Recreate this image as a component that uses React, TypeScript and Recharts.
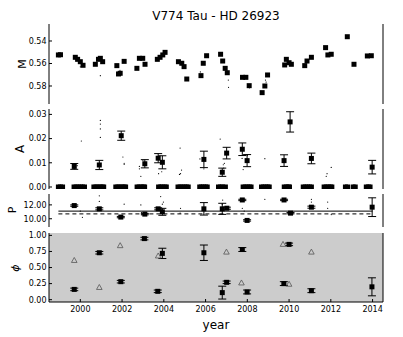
import React from 'react';
import { ComposedChart, Scatter, XAxis, YAxis, ErrorBar, ReferenceLine, CartesianGrid } from 'recharts';

const FONT = '"DejaVu Sans", sans-serif';

const yearTicks = [2000, 2002, 2004, 2006, 2008, 2010, 2012, 2014];
const yearDomain = [1998.5, 2014.5];

// M panel (big squares + small dots)
const mYears = [1998.95, 1999.05, 1999.76, 1999.87, 2000.0, 2000.13, 2000.72, 2000.87, 2000.96, 2001.07, 2001.75, 2001.83, 2001.91, 2002.1, 2002.71, 2002.83, 2002.99, 2003.1, 2003.69, 2003.82, 2003.95, 2004.06, 2004.7, 2004.86, 2004.97, 2005.1, 2005.78, 2005.89, 2006.05, 2006.72, 2006.82, 2006.94, 2007.04, 2007.77, 2007.93, 2008.09, 2008.71, 2008.84, 2008.97, 2009.79, 2009.87, 2010.0, 2010.11, 2010.75, 2010.86, 2011.07, 2011.75, 2011.86, 2012.02, 2012.79, 2013.11, 2013.75, 2013.94];
const mVals = [0.5524, 0.5522, 0.5545, 0.5563, 0.5584, 0.5616, 0.5607, 0.5563, 0.5554, 0.5584, 0.5619, 0.5693, 0.5687, 0.5581, 0.5643, 0.5554, 0.5554, 0.5607, 0.5563, 0.5545, 0.5524, 0.5501, 0.5584, 0.5598, 0.5628, 0.5738, 0.5708, 0.5598, 0.5531, 0.5518, 0.5578, 0.5643, 0.5682, 0.5723, 0.5723, 0.5797, 0.5859, 0.58, 0.5702, 0.5613, 0.5563, 0.5593, 0.5607, 0.5619, 0.5578, 0.5545, 0.5459, 0.5524, 0.5518, 0.5362, 0.5607, 0.5533, 0.5531];
const mDotYears = [2000.0, 2000.96, 2001.9, 2005.75, 2007.09, 2007.1, 2008.1, 2008.87, 2008.9];
const mDotVals = [0.563, 0.5708, 0.566, 0.5675, 0.5747, 0.5812, 0.5816, 0.5747, 0.5765];

// A panel
const aYears = [1999.71, 2000.91, 2001.96, 2003.09, 2003.73, 2003.93, 2005.92, 2006.8, 2007.01, 2007.76, 2007.99, 2009.76, 2010.05, 2011.07, 2013.98];
const aVals = [0.0085, 0.0091, 0.0212, 0.0096, 0.0119, 0.0102, 0.0114, 0.0061, 0.014, 0.0156, 0.0109, 0.0109, 0.0269, 0.0118, 0.0082];
const aErrs = [0.0012, 0.0019, 0.0019, 0.0017, 0.0019, 0.0027, 0.0034, 0.0017, 0.0024, 0.0026, 0.0025, 0.0024, 0.0042, 0.0022, 0.0028];
const aZeroYears = [1998.95, 1999.05, 1999.15, 1999.7, 1999.8, 1999.9, 2000.0, 2000.1, 2000.2, 2000.65, 2000.75, 2000.85, 2000.95, 2001.05, 2001.12, 2001.7, 2001.8, 2001.9, 2002.0, 2002.1, 2002.17, 2002.72, 2002.82, 2002.92, 2003.02, 2003.08, 2003.75, 2003.85, 2003.92, 2004.05, 2004.12, 2004.68, 2004.78, 2004.88, 2004.98, 2005.08, 2005.17, 2005.72, 2005.8, 2005.9, 2006.0, 2006.08, 2006.62, 2006.72, 2006.82, 2006.95, 2007.8, 2007.9, 2008.0, 2008.1, 2008.18, 2008.68, 2008.78, 2008.88, 2008.98, 2009.05, 2009.77, 2009.87, 2009.97, 2010.02, 2010.68, 2010.78, 2010.88, 2010.98, 2011.07, 2011.68, 2011.78, 2011.88, 2011.98, 2012.05, 2012.7, 2012.8, 2013.07, 2013.17, 2013.7, 2013.8, 2013.88];
const aDotYears = [1999.85, 2000.05, 2000.96, 2000.96, 2000.96, 2000.96, 2002.04, 2002.1, 2002.1, 2002.83, 2002.83, 2002.9, 2003.0, 2003.75, 2003.9, 2004.78, 2004.75, 2004.8, 2004.85, 2005.73, 2005.92, 2006.7, 2006.85, 2006.87, 2006.9, 2007.75, 2007.8, 2008.0, 2008.84, 2011.78, 2011.82, 2012.02];
const aDotVals = [0.0088, 0.019, 0.0275, 0.026, 0.024, 0.0205, 0.0124, 0.0098, 0.0093, 0.0085, 0.0075, 0.0044, 0.011, 0.0055, 0.0063, 0.0161, 0.0052, 0.0055, 0.007, 0.0116, 0.0075, 0.0198, 0.0092, 0.0078, 0.0098, 0.0118, 0.0072, 0.013, 0.0117, 0.0044, 0.0055, 0.0081];

// P panel
const pYears = [1999.71, 2000.91, 2001.94, 2003.09, 2003.73, 2003.93, 2005.92, 2006.8, 2007.02, 2007.76, 2007.99, 2009.76, 2010.07, 2011.07, 2013.98];
const pVals = [11.9, 11.43, 10.24, 10.67, 11.43, 11.0, 11.43, 11.43, 11.52, 12.71, 9.76, 12.71, 10.81, 11.67, 11.67];
const pErrs = [0.1, 0.15, 0.1, 0.1, 0.15, 0.5, 0.9, 0.8, 0.15, 0.1, 0.1, 0.1, 0.1, 0.15, 1.35];
const pDotYears = [2000.0, 2000.1, 2000.91, 2000.91, 2002.1, 2002.9, 2002.93, 2002.95, 2003.85, 2003.93, 2003.98, 2004.8, 2004.78, 2006.82, 2006.8, 2007.76, 2007.85, 2008.84, 2011.07, 2011.07, 2011.85, 2011.85, 2012.02];
const pDotVals = [11.1, 10.2, 13.3, 12.5, 12.1, 12.0, 10.9, 10.6, 13.2, 12.1, 12.4, 11.5, 10.8, 12.7, 12.1, 11.5, 11.1, 12.8, 12.8, 12.4, 12.4, 11.5, 10.6];
const pMean = 11.1;
const pMedian = 10.7;
const pLineYears = [1998.95, 2014.0];

// phi panel
const phiYears = [1999.71, 2000.91, 2001.94, 2003.07, 2003.71, 2003.93, 2005.92, 2006.8, 2007.01, 2007.76, 2007.99, 2009.75, 2010.0, 2011.07, 2013.97];
const phiVals = [0.16, 0.73, 0.28, 0.95, 0.13, 0.72, 0.73, 0.11, 0.27, 0.78, 0.12, 0.25, 0.86, 0.14, 0.2];
const phiErrs = [0.02, 0.02, 0.02, 0.02, 0.02, 0.08, 0.12, 0.1, 0.02, 0.03, 0.03, 0.03, 0.02, 0.03, 0.14];
const triYears = [1999.71, 2000.91, 2001.91, 2003.73, 2007.0, 2007.72, 2009.71, 2010.0, 2011.07];
const triVals = [0.61, 0.19, 0.84, 0.68, 0.74, 0.26, 0.86, 0.24, 0.74];

const pts = (xs: number[], ys: number[], es?: number[]) =>
  xs.map((x, i) => ({ x, y: ys[i], err: es ? es[i] : 0 }));

const SquareShape = (props: any) => (
  <rect x={props.cx - 2.5} y={props.cy - 2.5} width={5} height={5} fill="#000" />
);
const DotShape = (props: any) => <circle cx={props.cx} cy={props.cy} r={0.6} fill="#000" />;
const TriShape = (props: any) => (
  <polygon
    points={`${props.cx},${props.cy - 3} ${props.cx - 2.8},${props.cy + 2} ${props.cx + 2.8},${props.cy + 2}`}
    fill="none"
    stroke="#555"
    strokeWidth={0.8}
  />
);

const tickStyle = { fontSize: 8, fill: '#000', fontFamily: FONT };
const fmt = (v: number) => v.toFixed(2);
const PAD = 6; // room above/below the plot frame so edge tick labels are not clipped

function Panel({ top, height, yDomain, yTicks, reversed, bg, showX, children }: any) {
  const axisH = showX ? 25 : 0;
  return (
    <div style={{ position: 'absolute', left: 0, top: top - PAD }}>
      <ComposedChart
        width={403}
        height={height + PAD + (showX ? axisH : PAD)}
        margin={{ top: PAD, right: 0, bottom: showX ? 0 : PAD, left: 0 }}
      >
        {bg && <CartesianGrid horizontal={false} vertical={false} fill={bg} />}
        <XAxis
          dataKey="x"
          type="number"
          domain={yearDomain}
          ticks={yearTicks}
          allowDataOverflow
          interval={0}
          height={axisH}
          tick={showX ? tickStyle : false}
          tickSize={-3}
          tickMargin={7}
          tickLine={{ stroke: '#000' }}
          axisLine={{ stroke: '#000' }}
        />
        <XAxis
          xAxisId="top"
          orientation="top"
          type="number"
          domain={yearDomain}
          ticks={yearTicks}
          allowDataOverflow
          interval={0}
          height={0}
          tick={false}
          tickSize={-3}
          tickLine={{ stroke: '#000' }}
          axisLine={{ stroke: '#000' }}
        />
        <YAxis
          dataKey="y"
          type="number"
          domain={yDomain}
          ticks={yTicks}
          reversed={reversed}
          allowDataOverflow
          interval={0}
          width={49}
          tick={tickStyle}
          tickFormatter={fmt}
          tickSize={-3}
          tickMargin={5.5}
          tickLine={{ stroke: '#000' }}
          axisLine={{ stroke: '#000' }}
        />
        <YAxis
          yAxisId="right"
          orientation="right"
          type="number"
          domain={yDomain}
          ticks={yTicks}
          reversed={reversed}
          allowDataOverflow
          interval={0}
          width={20}
          tick={false}
          tickSize={-3}
          tickLine={{ stroke: '#000' }}
          axisLine={{ stroke: '#000' }}
        />
        {children}
      </ComposedChart>
    </div>
  );
}

export default function App() {
  return (
    <div style={{ position: 'absolute', left: 0, top: 0, width: 403, height: 337, background: '#fff' }}>
      <Panel top={24} height={80} yDomain={[0.5249, 0.596]} yTicks={[0.54, 0.56, 0.58]} reversed>
        <Scatter data={pts(mDotYears, mDotVals)} shape={DotShape} isAnimationActive={false} />
        <Scatter data={pts(mYears, mVals)} shape={SquareShape} isAnimationActive={false} />
      </Panel>
      <Panel top={109} height={80} yDomain={[-0.00083, 0.03223]} yTicks={[0, 0.01, 0.02, 0.03]}>
        <Scatter data={pts(aDotYears, aDotVals)} shape={DotShape} isAnimationActive={false} />
        <Scatter data={pts(aZeroYears, aZeroYears.map(() => 0))} shape={SquareShape} isAnimationActive={false} />
        <Scatter data={pts(aYears, aVals, aErrs)} shape={SquareShape} isAnimationActive={false}>
          <ErrorBar dataKey="err" direction="y" width={4} stroke="#000" strokeWidth={1} />
        </Scatter>
      </Panel>
      <Panel top={194} height={33} yDomain={[8.81, 13.57]} yTicks={[10, 12]}>
        <ReferenceLine segment={[{ x: pLineYears[0], y: pMean }, { x: pLineYears[1], y: pMean }]} stroke="#000" strokeWidth={1} />
        <ReferenceLine segment={[{ x: pLineYears[0], y: pMedian }, { x: pLineYears[1], y: pMedian }]} stroke="#000" strokeWidth={1} strokeDasharray="4 3" />
        <Scatter data={pts(pDotYears, pDotVals)} shape={DotShape} isAnimationActive={false} />
        <Scatter data={pts(pYears, pVals, pErrs)} shape={SquareShape} isAnimationActive={false}>
          <ErrorBar dataKey="err" direction="y" width={4} stroke="#000" strokeWidth={1} />
        </Scatter>
      </Panel>
      <Panel top={233} height={69} yDomain={[-0.036, 1.037]} yTicks={[0, 0.25, 0.5, 0.75, 1]} bg="#cccccc" showX>
        <Scatter data={pts(triYears, triVals)} shape={TriShape} isAnimationActive={false} />
        <Scatter data={pts(phiYears, phiVals, phiErrs)} shape={SquareShape} isAnimationActive={false}>
          <ErrorBar dataKey="err" direction="y" width={4} stroke="#000" strokeWidth={1} />
        </Scatter>
      </Panel>
      <svg width={403} height={337} style={{ position: 'absolute', left: 0, top: 0, pointerEvents: 'none' }}>
        <text x={216} y={20} textAnchor="middle" fontSize={12} fontFamily={FONT} fill="#000">V774 Tau - HD 26923</text>
        <text x={216} y={329} textAnchor="middle" fontSize={12} fontFamily={FONT} fill="#000">year</text>
        <text transform="translate(26,64) rotate(-90)" textAnchor="middle" fontSize={11} fontFamily={FONT} fill="#000">M</text>
        <text transform="translate(24,149) rotate(-90)" textAnchor="middle" fontSize={12} fontFamily={FONT} fill="#000">A</text>
        <text transform="translate(16,210) rotate(-90)" textAnchor="middle" fontSize={11} fontFamily={FONT} fill="#000">P</text>
        <text transform="translate(19,268) rotate(-90)" textAnchor="middle" fontSize={11} fontStyle="italic" fontFamily={FONT} fill="#000">ϕ</text>
      </svg>
    </div>
  );
}
